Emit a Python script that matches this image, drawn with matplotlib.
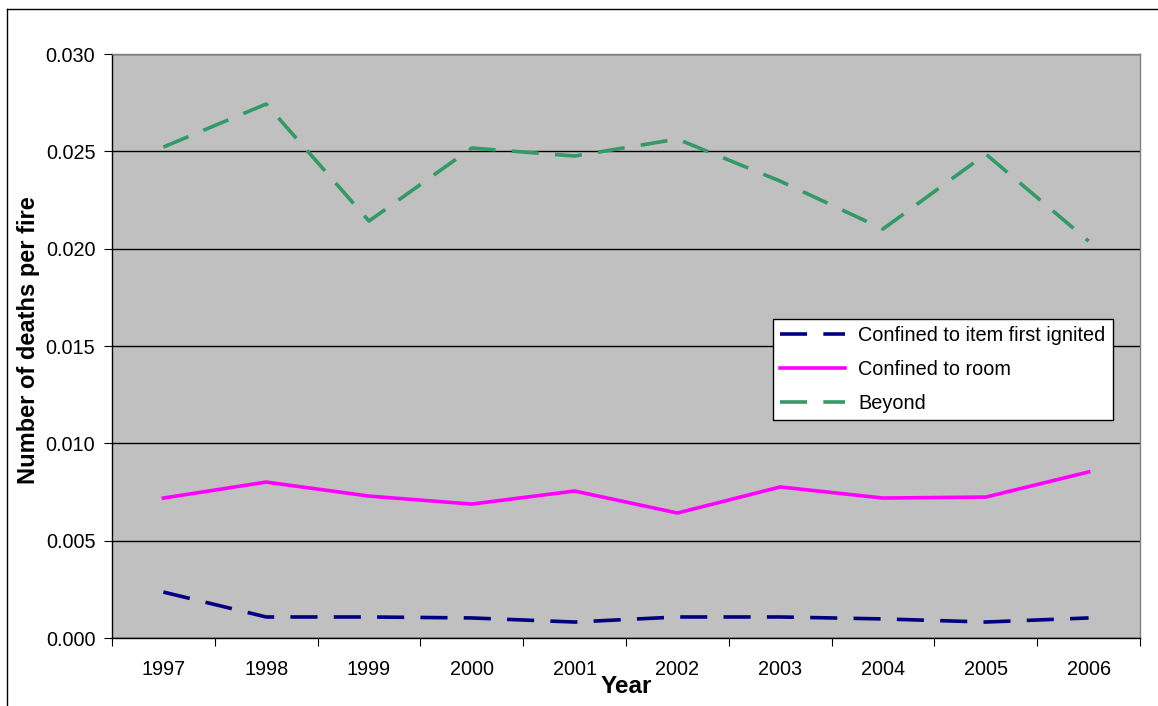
import matplotlib
matplotlib.use("Agg")
import matplotlib.pyplot as plt
from matplotlib.lines import Line2D

years = ["1997", "1998", "1999", "2000", "2001", "2002", "2003", "2004", "2005", "2006"]
item_first = [0.00236, 0.00108, 0.00108, 0.00103, 0.00082, 0.00108, 0.00108, 0.00098, 0.00082, 0.00103]
room = [0.00719, 0.00801, 0.00729, 0.00688, 0.00755, 0.00642, 0.00776, 0.00719, 0.00724, 0.00853]
beyond = [0.02522, 0.02743, 0.02142, 0.02517, 0.02476, 0.02563, 0.02347, 0.02101, 0.02486, 0.02039]
yticks = [0.000, 0.005, 0.010, 0.015, 0.020, 0.025, 0.030]

plt.rcParams['font.family'] = ['Liberation Sans', 'DejaVu Sans']

W, H = 1158, 706
fig = plt.figure(figsize=(W / 100, H / 100), dpi=100)
ax = fig.add_axes([112 / W, 1 - 638 / H, (1140 - 112) / W, (638 - 54) / H])
ax.set_facecolor('#C0C0C0')

x = list(range(len(years)))
lw = 2.6
ax.plot(x, item_first, color='#000080', lw=lw, dashes=(7.5, 4.5), label='Confined to item first ignited', zorder=3)
ax.plot(x, room, color='#FF00FF', lw=lw, label='Confined to room', zorder=3)
ax.plot(x, beyond, color='#339966', lw=lw, dashes=(7.5, 4.5), label='Beyond', zorder=3)

ax.set_xlim(-0.5, len(years) - 0.5)
ax.set_ylim(0, 0.030)
ax.set_yticks(yticks)
ax.set_yticklabels([f"{v:.3f}" for v in yticks], fontsize=14.3)
ax.set_xticks([i - 0.5 for i in range(len(years) + 1)])
ax.set_xticklabels([])
ax.set_xticks(x, minor=True)
ax.set_xticklabels(years, minor=True, fontsize=14.3)
ax.tick_params(axis='x', which='minor', length=0, pad=16)
ax.tick_params(axis='x', which='major', length=6, direction='out', color='black')
ax.tick_params(axis='y', length=6, direction='out', pad=6)

ax.yaxis.grid(True, color='black', lw=1)
ax.set_axisbelow(True)
for s in ['left', 'bottom']:
    ax.spines[s].set_color('black')
    ax.spines[s].set_linewidth(1)
for s in ['top', 'right']:
    ax.spines[s].set_color('#808080')
    ax.spines[s].set_linewidth(1)

ax.set_ylabel('Number of deaths per fire', fontsize=17, fontweight='bold', labelpad=5)
ax.yaxis.set_label_coords(-0.07, 0.51)
ax.set_xlabel('Year', fontsize=17.5, fontweight='bold', labelpad=-3)

leg = ax.legend(loc='upper left', bbox_to_anchor=((773 - 112) / 1028, (638 - 319) / 584),
                fontsize=14.3, frameon=True, fancybox=False, framealpha=1,
                edgecolor='black', facecolor='white', handlelength=3.3,
                borderpad=0.35, labelspacing=0.75, handletextpad=0.65, borderaxespad=0)
leg.get_frame().set_linewidth(1)

# outer figure border (top and left visible)
fig.add_artist(Line2D([7 / W, 7 / W], [0, 1 - 9 / H], transform=fig.transFigure, color='black', lw=1))
fig.add_artist(Line2D([7 / W, 1], [1 - 9 / H, 1 - 9 / H], transform=fig.transFigure, color='black', lw=1))

fig.savefig('out.png', dpi=100, facecolor='white')
